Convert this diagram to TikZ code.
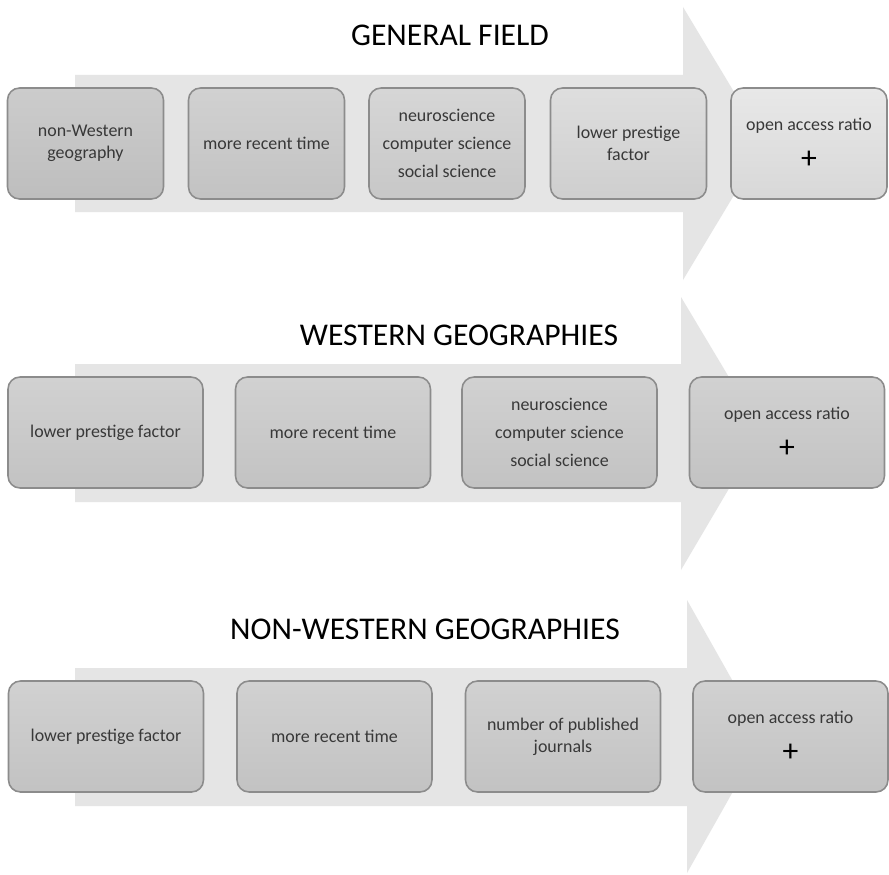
\documentclass[tikz,border=0pt]{standalone}
\usepackage{fontspec}
\setmainfont{Carlito}

\tikzset{
    flow/.style={fill=black!10, draw=none},
    heading/.style={font=\fontsize{18}{21}\selectfont, text=black},
    box/.style={draw=black!45, line width=0.9pt, rounded corners=0.24cm,
        align=center, minimum height=2.22cm, minimum width=3.12cm,
        top color=black!#1, bottom color=black!#1!white!93!black},
    box/.default=18,
    widebox/.style={box=#1, minimum width=3.9cm},
    widebox/.default=18,
}
\newcommand{\plussign}{{\color{black}\fontsize{18}{18}\selectfont +}}

\begin{document}
\begin{tikzpicture}[x=0.02cm, y=-0.02cm,
    every node/.style={font=\fontsize{10.2}{12.4}\selectfont, text=black!78}]

    \useasboundingbox[fill=white] (0,0) rectangle (889,875);

    % General field
    \fill[flow] (75,75) -- (683,75) -- (683,7) -- (765,143.5) -- (683,280)
        -- (683,212) -- (75,212) -- cycle;
    \node[heading] (general) at (450,35) {GENERAL FIELD};

    \node[box=20] (g1) at (85.5,143.5) {non-Western\\geography};
    \node[box=18] (g2) at (266.5,143.5) {more recent time};
    \node[box=16] (g3) at (447,143.5) {neuroscience\\[3.5pt]computer science\\[3.5pt]social science};
    \node[box=13] (g4) at (628.5,143.5) {lower prestige\\factor};
    \node[box=9] (g5) at (809,143.5) {open access ratio\\[9pt]\plussign};

    % Western geographies
    \fill[flow] (75,364) -- (681,364) -- (681,297) -- (762,432.5) -- (681,570)
        -- (681,502) -- (75,502) -- cycle;
    \node[heading] (western) at (459,335) {WESTERN GEOGRAPHIES};

    \node[widebox] (w1) at (105.5,432.5) {lower prestige factor};
    \node[widebox] (w2) at (333,432.5) {more recent time};
    \node[widebox] (w3) at (559.5,432.5) {neuroscience\\[3.5pt]computer science\\[3.5pt]social science};
    \node[widebox] (w4) at (787,432.5) {open access ratio\\[9pt]\plussign};

    % Non-western geographies
    \fill[flow] (75,668) -- (687,668) -- (687,600) -- (764,736.5) -- (687,873)
        -- (687,806) -- (75,806) -- cycle;
    \node[heading] (nonwestern) at (425,629) {NON-WESTERN GEOGRAPHIES};

    \node[widebox] (n1) at (106,736.5) {lower prestige factor};
    \node[widebox] (n2) at (334.5,736.5) {more recent time};
    \node[widebox] (n3) at (563,736.5) {number of published\\journals};
    \node[widebox] (n4) at (790.5,736.5) {open access ratio\\[9pt]\plussign};

\end{tikzpicture}
\end{document}
